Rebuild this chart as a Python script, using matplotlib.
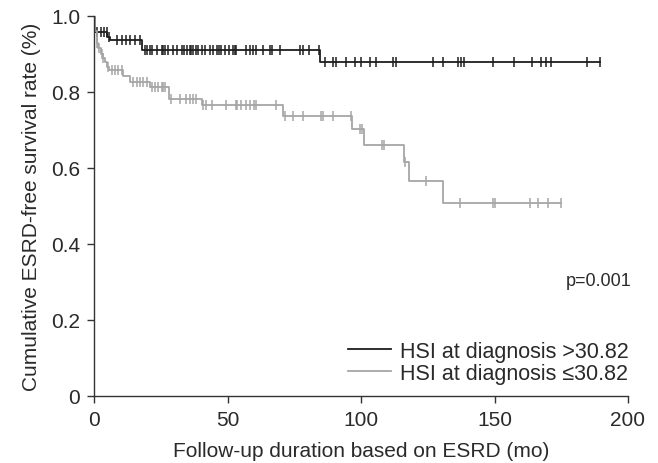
import numpy as np
import matplotlib
matplotlib.use("Agg")
import matplotlib.pyplot as plt

plt.rcParams['font.family'] = ['Liberation Sans', 'DejaVu Sans']

# ---- data ----
black_times = [0, 0.4, 4.9, 6.0, 17.8, 84.5]
black_surv = [1.0, 0.958, 0.944, 0.936, 0.911, 0.879]
black_end = 189.5
black_censor = [1.0, 2.5, 3.7, 4.7, 5.5, 8.5, 10.3, 12.0, 13.5, 15.3, 17.2,
                19.1, 19.9, 20.9, 21.9, 23.4, 25.3, 25.9, 26.5, 27.8, 29.4, 31.1,
                32.8, 33.8, 34.9, 35.9, 36.5, 37.1, 38.1, 39.1, 40.3, 41.5, 43.4,
                44.6, 45.9, 46.8, 47.7, 49.0, 50.6, 51.9, 52.8, 53.3, 57.1, 58.3,
                59.6, 60.8, 63.3, 65.8, 66.8, 69.5, 77.0, 78.2, 80.7, 84.2,
                86.4, 89.5, 90.7, 94.5, 97.6, 100.1, 103.2, 105.7, 111.9, 113.2,
                126.9, 130.6, 136.2, 137.4, 138.7, 149.3, 157.4, 164.2, 167.4,
                169.2, 171.1, 184.8, 189.4]

gray_times = [0, 0.3, 1.0, 1.5, 2.5, 3.2, 4.0, 4.8, 5.5, 11.0, 13.5, 21.0,
              28.0, 40.3, 70.9, 96.8, 101.2, 116.0, 118.0, 130.8]
gray_surv = [1.0, 0.96, 0.93, 0.915, 0.90, 0.89, 0.878, 0.866, 0.858, 0.843,
             0.827, 0.812, 0.782, 0.765, 0.738, 0.703, 0.661, 0.615, 0.565, 0.507]
gray_end = 175.0
gray_censor = [1.2, 2.0, 2.8, 3.5, 5.3, 6.7, 7.9, 9.0, 10.5, 14.6, 16.0, 17.2,
               18.3, 19.8, 21.7, 22.8, 24.0, 25.3, 25.9, 26.6, 29.0, 32.2, 34.4,
               35.9, 37.2, 38.2, 40.9, 42.1, 44.0, 49.6, 53.1, 53.6, 55.2, 56.8,
               58.3, 59.9, 60.8, 68.3, 71.4, 74.5, 78.2, 84.9, 85.7, 89.5, 96.4,
               99.6, 100.5, 107.8, 108.5, 116.3, 124.4, 137.0, 149.6, 150.2,
               163.4, 166.4, 170.0, 174.8]

labels = ["HSI at diagnosis >30.82", "HSI at diagnosis \u226430.82"]
xticks = [0, 50, 100, 150, 200]
yticks = [0, 0.2, 0.4, 0.6, 0.8, 1.0]
ytick_labels = ["0", "0.2", "0.4", "0.6", "0.8", "1.0"]

colors = ["#1e1e1e", "#a6a6a6"]
txtc = '#2a2a2a'

fig = plt.figure(figsize=(6.58, 4.64), dpi=100)
ax = fig.add_axes([0.1429, 0.1444, 0.8115, 0.8190])


def draw(times, surv, end, censor, color, label):
    t = np.array(list(times) + [end])
    s = np.array(list(surv) + [surv[-1]])
    ax.step(t, s, where='post', color=color, lw=1.3, label=label)
    c = np.array(censor)
    idx = np.searchsorted(np.array(times), c, side='right') - 1
    cy = np.array(surv)[idx]
    ax.plot(c, cy, linestyle='none', marker='|', markersize=7,
            markeredgewidth=1.1, color=color)


draw(black_times, black_surv, black_end, black_censor, colors[0], labels[0])
draw(gray_times, gray_surv, gray_end, gray_censor, colors[1], labels[1])

ax.set_xlim(0, 200)
ax.set_ylim(0, 1.0)
ax.set_xticks(xticks)
ax.set_yticks(yticks)
ax.set_yticklabels(ytick_labels)
for sp in ['top', 'right']:
    ax.spines[sp].set_visible(False)
for sp in ['left', 'bottom']:
    ax.spines[sp].set_color('#333333')
    ax.spines[sp].set_linewidth(1.0)
ax.tick_params(direction='out', length=5, width=1.0, labelsize=15, pad=5,
               colors='#333333', labelcolor=txtc)

ax.set_xlabel("Follow-up duration based on ESRD (mo)", fontsize=15,
              color=txtc, labelpad=9)
ax.set_ylabel("Cumulative ESRD-free survival rate (%)", fontsize=15,
              color=txtc, labelpad=7)

ax.text(201.5, 0.303, "p=0.001", fontsize=13, ha='right', va='center',
        color=txtc)

leg = ax.legend(loc='upper left', bbox_to_anchor=(0.475, 0.145), frameon=False,
                fontsize=15.5, handlelength=2.0, handletextpad=0.45,
                labelspacing=0.05, borderpad=0.0, borderaxespad=0.0)
for txt in leg.get_texts():
    txt.set_color(txtc)

fig.savefig("out.png", dpi=100)
